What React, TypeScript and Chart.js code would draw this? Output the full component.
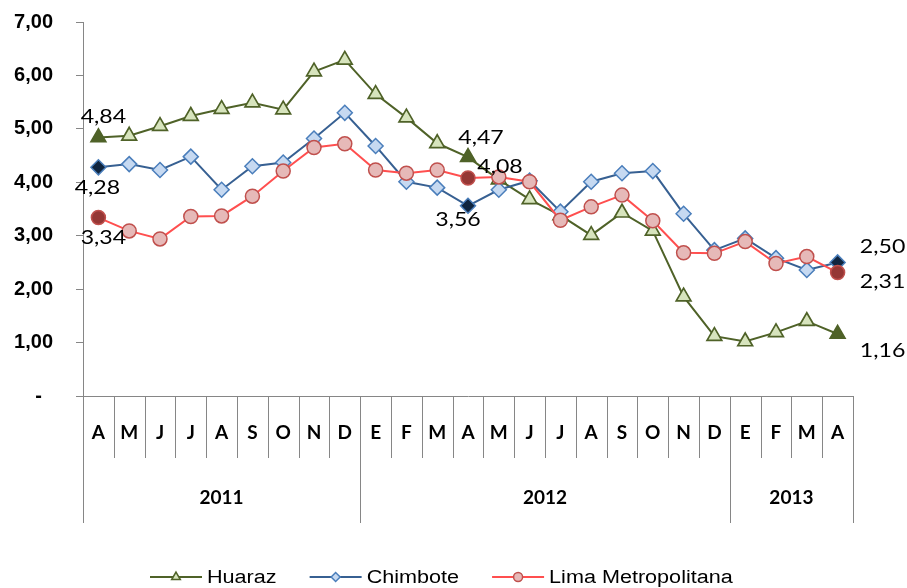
import { useEffect, useRef } from 'react';
import { Chart, registerables } from 'chart.js';

Chart.register(...registerables);

const months = ['A', 'M', 'J', 'J', 'A', 'S', 'O', 'N', 'D', 'E', 'F', 'M', 'A', 'M', 'J', 'J', 'A', 'S', 'O', 'N', 'D', 'E', 'F', 'M', 'A'];
const years = ['2011', '2012', '2013'];
const yearSpans = [9, 12, 4];

const huaraz = [4.84, 4.87, 5.05, 5.24, 5.37, 5.49, 5.36, 6.07, 6.29, 5.65, 5.21, 4.73, 4.47, 4.05, 3.68, 3.38, 3.01, 3.43, 3.09, 1.86, 1.12, 1.02, 1.19, 1.40, 1.16];
const chimbote = [4.28, 4.34, 4.23, 4.48, 3.86, 4.30, 4.37, 4.82, 5.30, 4.68, 4.01, 3.90, 3.56, 3.86, 4.03, 3.45, 4.01, 4.17, 4.21, 3.41, 2.73, 2.95, 2.58, 2.36, 2.50];
const lima = [3.34, 3.09, 2.94, 3.36, 3.37, 3.74, 4.21, 4.65, 4.72, 4.23, 4.17, 4.23, 4.08, 4.10, 4.01, 3.29, 3.54, 3.76, 3.28, 2.68, 2.67, 2.89, 2.48, 2.61, 2.31];
const yTicks = [0, 1, 2, 3, 4, 5, 6, 7];

const highlighted = [0, 12, 24];

// label placement offsets (dataset index, point index, dx, dy)
const labelSpots = [
  [0, 0, 5, -20], [0, 12, 13, -19], [0, 24, 45, 17],
  [1, 0, -1, 21], [1, 12, -10, 14], [1, 24, 45, -15],
  [2, 0, 5, 20], [2, 12, 32, -11], [2, 24, 45, 9],
];

const fmt = (v: number) => v.toFixed(2).replace('.', ',');

function perPoint(n: number, normal: string, hl: string) {
  return Array.from({ length: n }, (_, i) => (highlighted.includes(i) ? hl : normal));
}

function drawMarker(ctx: CanvasRenderingContext2D, style: string, cx: number, cy: number, r: number, fill: string, stroke: string, lw: number) {
  ctx.save();
  ctx.beginPath();
  if (style === 'triangle') {
    ctx.moveTo(cx, cy - r);
    ctx.lineTo(cx + r * 0.866, cy + r * 0.5);
    ctx.lineTo(cx - r * 0.866, cy + r * 0.5);
    ctx.closePath();
  } else if (style === 'rectRot') {
    ctx.moveTo(cx - r, cy);
    ctx.lineTo(cx, cy - r);
    ctx.lineTo(cx + r, cy);
    ctx.lineTo(cx, cy + r);
    ctx.closePath();
  } else {
    ctx.arc(cx, cy, r, 0, Math.PI * 2);
  }
  ctx.fillStyle = fill;
  ctx.fill();
  ctx.lineWidth = lw;
  ctx.strokeStyle = stroke;
  ctx.stroke();
  ctx.restore();
}

function stretchText(ctx: CanvasRenderingContext2D, text: string, x: number, y: number, font: string, align: CanvasTextAlign, sx: number) {
  ctx.save();
  ctx.font = font;
  ctx.fillStyle = '#000';
  ctx.textAlign = align;
  ctx.textBaseline = 'middle';
  ctx.translate(x, y);
  ctx.scale(sx, 1);
  ctx.fillText(text, 0, 0);
  const w = ctx.measureText(text).width * sx;
  ctx.restore();
  return w;
}

const decorPlugin = {
  id: 'decor',
  afterDatasetsDraw(chart: any) {
    const ctx = chart.ctx as CanvasRenderingContext2D;
    labelSpots.forEach(([d, i, dx, dy]) => {
      const el = chart.getDatasetMeta(d).data[i];
      const v = chart.data.datasets[d].data[i] as number;
      stretchText(ctx, fmt(v), el.x + dx, el.y + dy, '18.5px Lato', 'center', 1.25);
    });
  },
  afterDraw(chart: any) {
    const ctx = chart.ctx as CanvasRenderingContext2D;
    const xs = chart.scales.x;
    const bottom = chart.chartArea.bottom;
    const n = months.length;
    const half = (xs.getPixelForValue(1) - xs.getPixelForValue(0)) / 2;
    const edge = (k: number) => xs.getPixelForValue(k) - half;
    const yearEdges: number[] = [0];
    yearSpans.forEach((s) => yearEdges.push(yearEdges[yearEdges.length - 1] + s));
    ctx.save();
    ctx.strokeStyle = '#868686';
    ctx.lineWidth = 1;
    for (let k = 0; k <= n; k++) {
      const x = Math.round(edge(k)) + 0.5;
      const len = yearEdges.includes(k) ? 127 : 62;
      ctx.beginPath();
      ctx.moveTo(x, bottom);
      ctx.lineTo(x, bottom + len);
      ctx.stroke();
    }
    ctx.restore();
    years.forEach((yr, j) => {
      const cx = (edge(yearEdges[j]) + edge(yearEdges[j + 1])) / 2;
      stretchText(ctx, yr, cx, bottom + 102, 'bold 19px Lato', 'center', 1);
    });
    // legend
    let x = 150;
    const y = 577;
    chart.data.datasets.forEach((ds: any) => {
      ctx.save();
      ctx.strokeStyle = ds.borderColor;
      ctx.lineWidth = 2;
      ctx.beginPath();
      ctx.moveTo(x, y);
      ctx.lineTo(x + 52, y);
      ctx.stroke();
      ctx.restore();
      drawMarker(ctx, ds.pointStyle, x + 26, y, ds.legendR, ds.legendFill, ds.pointBorderColor, 1.5);
      const w = stretchText(ctx, ds.label, x + 57, y + 1, '18px "Liberation Sans"', 'left', 1.2);
      x += 57 + w + 33;
    });
  },
};

export default function App() {
  const ref = useRef<HTMLCanvasElement>(null);
  useEffect(() => {
    document.body.style.margin = '0';
    const chart = new Chart(ref.current!, {
      type: 'line',
      data: {
        labels: months,
        datasets: [
          {
            label: 'Huaraz',
            data: huaraz,
            borderColor: '#4F6228',
            borderWidth: 2,
            pointStyle: 'triangle',
            pointRadius: 8.5,
            pointBorderWidth: 1.7,
            pointBackgroundColor: perPoint(huaraz.length, '#D7E4BD', '#4F6228'),
            pointBorderColor: '#4F6228',
            order: 3,
            legendR: 5,
            legendFill: '#D7E4BD',
          } as any,
          {
            label: 'Chimbote',
            data: chimbote,
            borderColor: '#376092',
            borderWidth: 2,
            pointStyle: 'rectRot',
            pointRadius: 7.5,
            pointBorderWidth: 1.5,
            pointBackgroundColor: perPoint(chimbote.length, '#C6D9F1', '#10253F'),
            pointBorderColor: '#4A7EBB',
            order: 2,
            legendR: 4.5,
            legendFill: '#C6D9F1',
          } as any,
          {
            label: 'Lima Metropolitana',
            data: lima,
            borderColor: '#FF4F4F',
            borderWidth: 2,
            pointStyle: 'circle',
            pointRadius: 7,
            pointBorderWidth: 1.5,
            pointBackgroundColor: perPoint(lima.length, '#E6B9B8', '#953735'),
            pointBorderColor: '#C0504D',
            order: 1,
            legendR: 4.5,
            legendFill: '#E6B9B8',
          } as any,
        ],
      },
      options: {
        animation: false,
        responsive: false,
        layout: { padding: { left: 0, right: 54, top: 22, bottom: 0 } },
        plugins: {
          legend: { display: false },
          tooltip: { enabled: false },
        },
        scales: {
          x: {
            type: 'category',
            offset: true,
            grid: { display: false },
            border: { display: true, color: '#868686', width: 1 },
            ticks: {
              color: '#000',
              font: { family: 'Lato', weight: 'bold', size: 19 },
              padding: 17,
              maxRotation: 0,
              autoSkip: false,
            },
            afterFit: (s: any) => { s.height = 192; },
          },
          y: {
            min: 0,
            max: 7,
            afterBuildTicks: (s: any) => { s.ticks = yTicks.map((v) => ({ value: v })); },
            grid: { display: true, drawOnChartArea: false, drawTicks: true, tickLength: 7, color: '#868686' },
            border: { display: true, color: '#868686', width: 1 },
            ticks: {
              color: '#000',
              font: { family: '"Liberation Sans"', weight: 'bold', size: 20 },
              padding: 23,
              callback: (v: any) => (Number(v) === 0 ? '-  ' : fmt(Number(v))),
            },
            afterFit: (s: any) => { s.width = 83; s.paddingTop = 0; s.paddingBottom = 0; },
          },
        },
      },
      plugins: [decorPlugin],
    });
    return () => chart.destroy();
  }, []);
  return (
    <div style={{ position: 'absolute', left: 0, top: 0, width: 907, height: 588, background: '#fff' }}>
      <canvas ref={ref} width={907} height={588} />
    </div>
  );
}
